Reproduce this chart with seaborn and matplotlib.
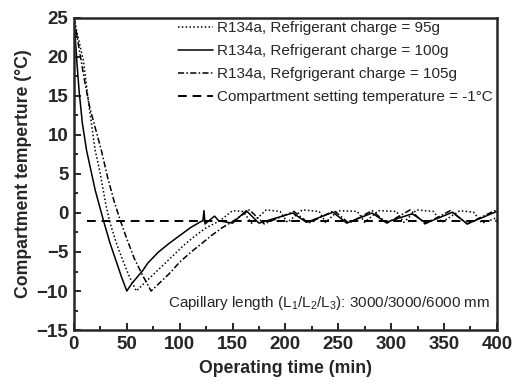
import numpy as np
import pandas as pd
import matplotlib
matplotlib.use('Agg')
import matplotlib.pyplot as plt
import seaborn as sns
from matplotlib.ticker import MultipleLocator

# %%
# Data (time in min, temperature in degC)
t_95 = [0, 4, 9, 14, 20, 25, 30, 34, 40, 46, 52, 59,
        65, 75, 85, 95, 105, 115, 125, 135, 138,
        150, 160, 168, 182, 195, 202, 216, 232, 238, 250, 268, 275,
        288, 305, 312, 324, 340, 348, 365, 378, 386, 400]
temp_95 = [25, 22.5, 19.5, 14, 8.1, 5, 1.2, -1.2, -3.8, -6, -8, -10,
           -9.2, -7.9, -6.6, -5.3, -4.0, -2.9, -1.9, -1.2, -1.0,
           0.3, 0.2, -1.3, 0.4, 0.2, -1.2, 0.4, 0.2, -1.2, 0.3, 0.2, -1.2,
           0.3, 0.2, -1.2, 0.4, 0.2, -1.2, 0.3, 0.1, -1.3, -0.6]

t_100 = [0, 1, 3, 5, 8, 12, 16, 20, 24, 28, 34, 40, 45, 50,
         55, 60, 65, 70, 80, 90, 100, 110, 120, 122, 123, 124,
         133, 137, 150, 163, 175, 207, 220, 245, 258, 282, 295,
         320, 333, 358, 372, 400]
temp_100 = [25, 23, 19, 15.5, 11.5, 8, 5.5, 3, 1, -1, -3.8, -6.2, -8.2, -10,
            -9, -8.2, -7.4, -6.4, -5, -3.9, -2.9, -1.9, -1.1, -1.0, 0.3, -1.4,
            -0.4, -1.0, -1.3, 0.3, -1.3, 0.0, -1.2, 0.1, -1.3, 0.0, -1.2,
            -0.1, -1.3, 0.1, -1.4, 0.2]

t_105 = [0, 5, 10, 15, 20, 26, 32, 38, 44, 50, 57, 65, 73,
         80, 90, 100, 110, 120, 130, 140, 150,
         166, 180, 208, 222, 246, 260, 282, 296, 318, 332, 356, 372, 398, 400]
temp_105 = [25, 21, 17, 13.5, 11, 8, 4.5, 1.5, -1, -3.3, -5.8, -8, -10,
            -9.1, -7.8, -6.3, -5.1, -4.0, -2.9, -1.9, -1.1,
            0.4, -1.4, 0.2, -1.3, 0.3, -1.3, 0.3, -1.3, 0.4, -1.4, 0.3, -1.4, 0.3, 0.1]

t_set = [12, 400]
temp_set = [-1, -1]

labels = ['R134a, Refrigerant charge = 95g',
          'R134a, Refrigerant charge = 100g',
          'R134a, Refgrigerant charge = 105g',
          'Compartment setting temperature = -1°C']

# %%
sns.set_style('ticks')
plt.rcParams['font.family'] = ['Liberation Sans', 'DejaVu Sans']
plt.rcParams['mathtext.fontset'] = 'custom'
plt.rcParams['mathtext.rm'] = 'Liberation Sans'
plt.rcParams['mathtext.it'] = 'Liberation Sans'

fig = plt.figure(figsize=(5.28, 3.91), dpi=100)
ax = fig.add_axes([0.140, 0.156, 0.801, 0.798])

lw = 1.1
sns.lineplot(x=t_95, y=temp_95, ax=ax, color='black', lw=lw,
             linestyle=(0, (1, 1.5)), label=labels[0], sort=False, estimator=None)
sns.lineplot(x=t_100, y=temp_100, ax=ax, color='black', lw=lw,
             linestyle='-', label=labels[1], sort=False, estimator=None)
sns.lineplot(x=t_105, y=temp_105, ax=ax, color='black', lw=lw,
             linestyle=(0, (4, 1.5, 1, 1.5)), label=labels[2], sort=False, estimator=None)
sns.lineplot(x=t_set, y=temp_set, ax=ax, color='black', lw=1.4,
             linestyle=(0, (4.5, 3)), label=labels[3], sort=False, estimator=None)

ax.set_xlim(0, 400)
ax.set_ylim(-15, 25)
ax.xaxis.set_major_locator(MultipleLocator(50))
ax.xaxis.set_minor_locator(MultipleLocator(25))
ax.yaxis.set_major_locator(MultipleLocator(5))
ax.yaxis.set_minor_locator(MultipleLocator(2.5))
ax.tick_params(which='both', direction='in', width=1.4)
ax.tick_params(which='major', length=5, labelsize=13.5, pad=4)
ax.tick_params(which='minor', length=3)
for lab in ax.get_xticklabels() + ax.get_yticklabels():
    lab.set_fontweight('bold')
for sp in ax.spines.values():
    sp.set_visible(True)
    sp.set_linewidth(1.8)

ax.set_xlabel('Operating time (min)', fontsize=12.7, fontweight='bold', labelpad=5)
ax.set_ylabel('Compartment temperture (°C)', fontsize=12.7, fontweight='bold', labelpad=3)

ax.legend(loc='upper right', bbox_to_anchor=(1.005, 1.01), frameon=False,
          fontsize=11, handlelength=2.3, handletextpad=0.25, labelspacing=0.6,
          borderaxespad=0)

ax.text(0.985, 0.085, 'Capillary length (L$_1$/L$_2$/L$_3$): 3000/3000/6000 mm',
        transform=ax.transAxes, ha='right', va='center', fontsize=11)

fig.savefig('out.png', dpi=100)
